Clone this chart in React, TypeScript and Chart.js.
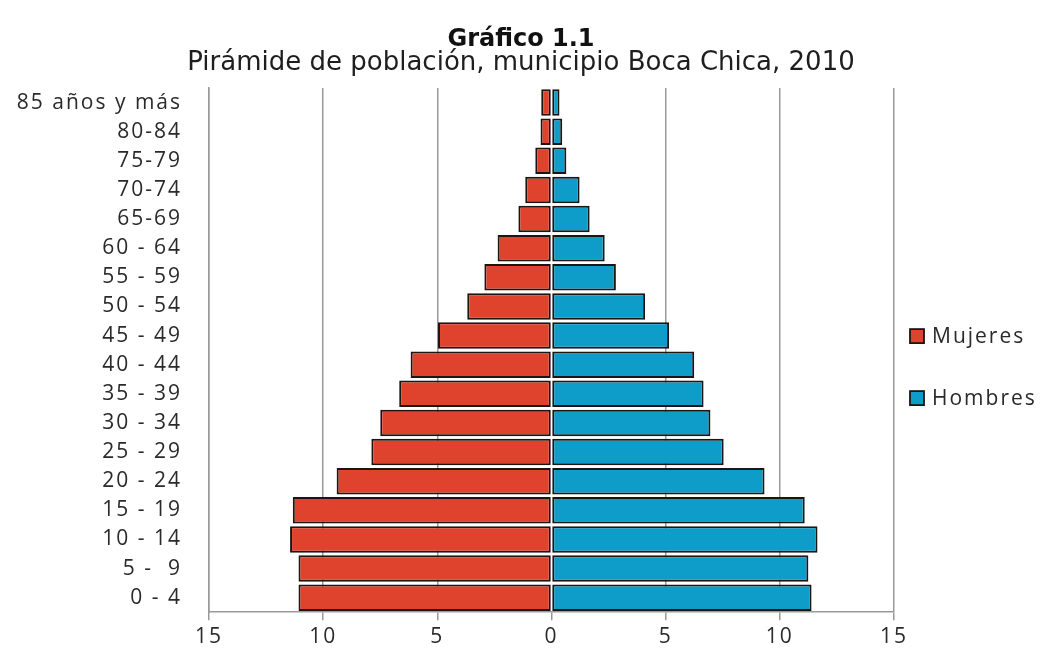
import { useEffect, useRef } from "react";
import { Chart, registerables } from "chart.js";

Chart.register(...registerables);

// ---- data ----
const categories = [
  "85 años y más",
  "80-84",
  "75-79",
  "70-74",
  "65-69",
  "60 - 64",
  "55 - 59",
  "50 - 54",
  "45 - 49",
  "40 - 44",
  "35 - 39",
  "30 - 34",
  "25 - 29",
  "20 - 24",
  "15 - 19",
  "10 - 14",
  "5 -  9",
  "0 - 4",
];
const mujeres = [0.45, 0.48, 0.71, 1.15, 1.45, 2.36, 2.94, 3.69, 4.97, 6.17, 6.67, 7.5, 7.89, 9.41, 11.33, 11.45, 11.08, 11.08];
const hombres = [0.35, 0.47, 0.65, 1.23, 1.67, 2.33, 2.82, 4.1, 5.15, 6.25, 6.66, 6.96, 7.54, 9.33, 11.09, 11.65, 11.25, 11.39];
const seriesNames = ["Mujeres", "Hombres"];
const xMin = -15;
const xMax = 15;
const xStep = 5;
const titleText = "Gráfico 1.1";
const subtitleText = "Pirámide de población, municipio Boca Chica, 2010";

// ---- styles ----
const RED = "#E0432D";
const BLUE = "#0E9CC8";
const EDGE = "#1c1512";
const GRID = "#9a9a9a";
const TEXT = "#2a2a2a";
const LABEL_FONT = '"Open Sans", "Noto Sans", sans-serif';
const TITLE_FONT = '"DejaVu Sans", sans-serif';
const SPACING = "2px";

export default function App() {
  const ref = useRef<HTMLCanvasElement>(null);

  useEffect(() => {
    const canvas = ref.current;
    if (!canvas) return;
    let destroyed = false;

    const pyramidPlugin = {
      id: "pyramidLegend",
      beforeDraw(chart: any) {
        chart.ctx.letterSpacing = "0px";
      },
      afterDatasetsDraw(chart: any) {
        chart.ctx.letterSpacing = SPACING;
      },
      afterDraw(chart: any) {
        const { ctx, chartArea } = chart;
        ctx.save();
        ctx.letterSpacing = SPACING;
        const x0 = chartArea.right + 16;
        const mid = (chartArea.top + chartArea.bottom) / 2;
        chart.data.datasets.forEach((ds: any, i: number) => {
          const cy = mid - 14 + i * 62;
          ctx.fillStyle = ds.backgroundColor;
          ctx.fillRect(x0, cy - 7, 14, 14);
          ctx.strokeStyle = EDGE;
          ctx.lineWidth = 1.8;
          ctx.strokeRect(x0, cy - 7, 14, 14);
          ctx.fillStyle = TEXT;
          ctx.font = `21px ${LABEL_FONT}`;
          ctx.textAlign = "left";
          ctx.textBaseline = "middle";
          ctx.fillText(ds.label, x0 + 22, cy + 0.5);
        });
        ctx.restore();
        ctx.letterSpacing = "0px";
      },
    };

    const tickFont = { family: LABEL_FONT, size: 21 };

    const chart = new Chart(canvas, {
      type: "bar",
      data: {
        labels: categories,
        datasets: [
          {
            label: seriesNames[0],
            data: mujeres.map((v) => -v),
            backgroundColor: RED,
            borderColor: EDGE,
            borderWidth: 2,
            borderSkipped: false,
            barPercentage: 0.91,
            categoryPercentage: 1,
          },
          {
            label: seriesNames[1],
            data: hombres,
            backgroundColor: BLUE,
            borderColor: EDGE,
            borderWidth: 2,
            borderSkipped: false,
            barPercentage: 0.91,
            categoryPercentage: 1,
          },
        ],
      },
      options: {
        indexAxis: "y",
        responsive: true,
        maintainAspectRatio: false,
        animation: false,
        layout: { padding: { left: 0, right: 0, top: 0, bottom: 0 } },
        plugins: {
          legend: { display: false },
          tooltip: { enabled: false },
          title: {
            display: true,
            text: titleText,
            color: "#111111",
            font: { family: TITLE_FONT, size: 24, weight: "bold", lineHeight: 0.8 },
            padding: { top: 30, bottom: 0 },
          },
          subtitle: {
            display: true,
            text: subtitleText,
            color: "#1e1e1e",
            font: { family: TITLE_FONT, size: 26, weight: "normal", lineHeight: 0.8 },
            padding: { top: 3.4, bottom: 14.6 },
          },
        },
        scales: {
          x: {
            type: "linear",
            stacked: true,
            min: xMin,
            max: xMax,
            ticks: {
              stepSize: xStep,
              callback: (v: any) => String(Math.abs(Number(v))),
              color: TEXT,
              font: tickFont,
              padding: 4,
              maxRotation: 0,
              z: 1,
            },
            grid: {
              color: (c: any) => (c.tick && c.tick.value === 0 ? "rgba(0,0,0,0)" : GRID),
              lineWidth: 1.5,
              tickColor: GRID,
              tickLength: 8,
              drawTicks: true,
            },
            border: { display: true, color: GRID, width: 1.5 },
            afterFit: (s: any) => {
              s.height = 48.8;
            },
          },
          y: {
            type: "category",
            stacked: true,
            grid: { display: false, drawTicks: false },
            border: { display: true, color: GRID, width: 1.5 },
            ticks: {
              color: TEXT,
              font: tickFont,
              padding: 27,
              autoSkip: false,
              z: 1,
            },
            afterFit: (s: any) => {
              s.width = 209;
            },
          },
          legendSpace: {
            type: "category",
            position: "right",
            display: true,
            grid: { display: false, drawTicks: false },
            border: { display: false },
            ticks: { display: false },
            afterFit: (s: any) => {
              s.width = 148;
            },
          },
        },
      } as any,
      plugins: [pyramidPlugin],
    });

    const fonts = (document as any).fonts;
    if (fonts && fonts.load) {
      Promise.all([
        fonts.load(`21px "Open Sans"`),
        fonts.load(`bold 24px "DejaVu Sans"`),
        fonts.load(`26px "DejaVu Sans"`),
      ])
        .then(() => {
          if (!destroyed) chart.update();
        })
        .catch(() => {});
    }

    return () => {
      destroyed = true;
      chart.destroy();
    };
  }, []);

  return (
    <div style={{ position: "absolute", left: 0, top: 0, width: 1042, height: 661 }}>
      <canvas ref={ref} />
    </div>
  );
}
